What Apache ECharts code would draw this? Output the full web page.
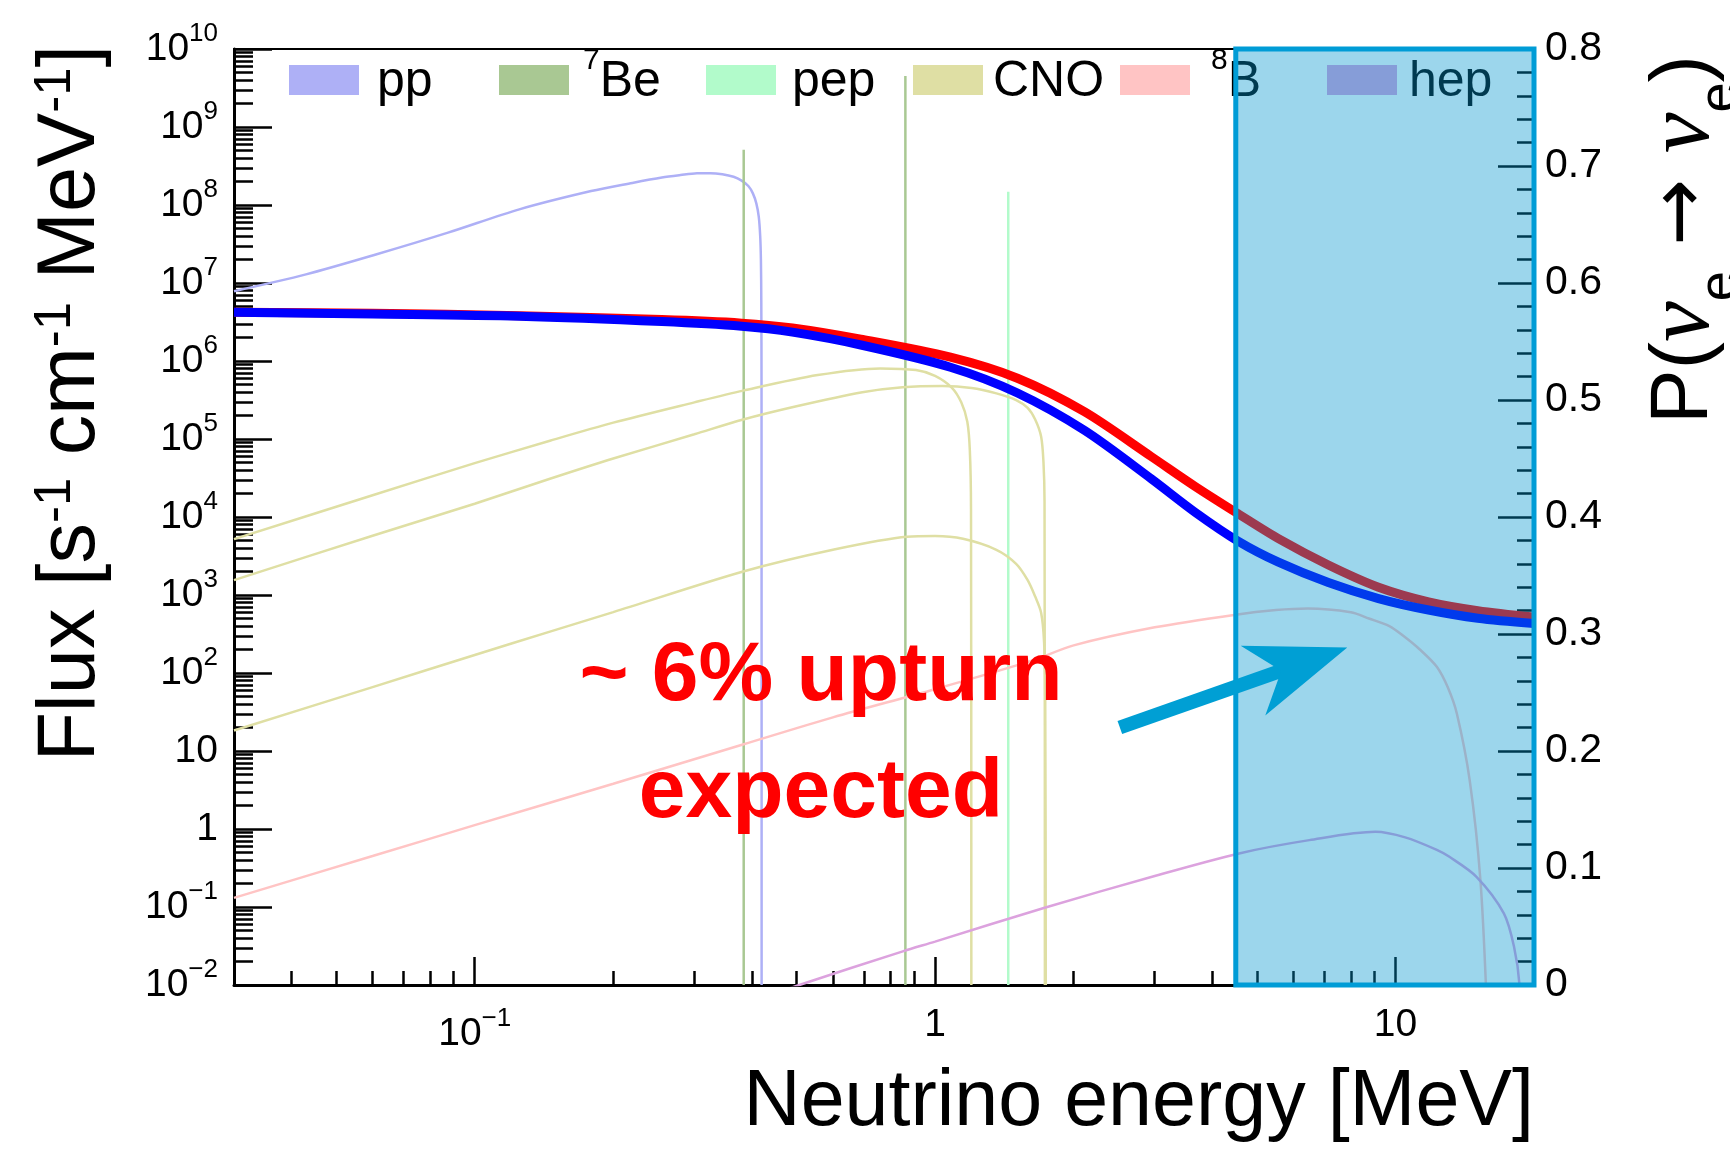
<!DOCTYPE html>
<html>
<head>
<meta charset="utf-8">
<title>Solar neutrino spectrum and electron-neutrino survival probability</title>
<script src="https://cdn.jsdelivr.net/npm/echarts@6/dist/echarts.min.js"></script>
<style>
  html, body { margin: 0; padding: 0; background: #ffffff; }
  #chart { width: 1730px; height: 1151px; }
</style>
</head>
<body>
<div id="chart"></div>
<script>
// ---------------- solar neutrino fluxes [s^-1 cm^-1 MeV^-1] vs energy [MeV] ----------------
const ppEnergy = [0.03, 0.043, 0.061, 0.0875, 0.125, 0.179, 0.22, 0.255, 0.28, 0.304, 0.325, 0.345, 0.365, 0.38, 0.393, 0.402, 0.409, 0.414, 0.417, 0.4185, 0.4193, 0.4198, 0.42];
const ppFlux   = [7.85e6, 1.29e7, 2.32e7, 4.42e7, 8.8e7, 1.51e8, 1.92e8, 2.25e8, 2.42e8, 2.55e8, 2.56e8, 2.48e8, 2.3e8, 2.05e8, 1.75e8, 1.41e8, 1.05e8, 7.1e7, 4e7, 2e7, 6e6, 5e5, 0.01];

// monochromatic lines: 7Be (two branches) and pep
const be7LineEnergy = [0.384, 0.862];
const be7LineFlux   = [5.1e8, 4.5e9];
const pepLineEnergy = [1.442];
const pepLineFlux   = [1.48e8];

// CNO cycle: 13N, 15O, 17F
const n13Energy = [0.03, 0.06, 0.1, 0.1457, 0.2, 0.3, 0.383, 0.556, 0.76, 0.909, 1.0, 1.087, 1.14, 1.175, 1.19, 1.197, 1.199];
const n13Flux   = [5.2e3, 1.9e4, 4.9e4, 9.5e4, 1.62e5, 2.95e5, 4.17e5, 6.6e5, 8.04e5, 7.67e5, 6.46e5, 4.57e5, 2.95e5, 1.66e5, 7.1e4, 1.26e4, 0.01];
const o15Energy = [0.03, 0.06, 0.1, 0.1457, 0.2, 0.3, 0.383, 0.5, 0.695, 0.85, 1.039, 1.2, 1.359, 1.5, 1.589, 1.65, 1.70, 1.72, 1.729, 1.732];
const o15Flux   = [1.55e3, 5.75e3, 1.48e4, 3.09e4, 5.62e4, 1.15e5, 1.78e5, 2.63e5, 3.98e5, 4.62e5, 4.79e5, 4.52e5, 3.85e5, 3.16e5, 2.51e5, 1.78e5, 1.07e5, 5.0e4, 1.58e4, 0.01];
const f17Energy = [0.03, 0.06, 0.1, 0.1457, 0.2, 0.383, 0.6, 0.869, 1.0, 1.15, 1.359, 1.5, 1.589, 1.65, 1.70, 1.725, 1.735, 1.74];
const f17Flux   = [18.3, 66, 170, 339, 603, 2.0e3, 3.8e3, 5.58e3, 5.7e3, 5.25e3, 3.8e3, 2.51e3, 1.55e3, 955, 589, 251, 50, 0.01];

// 8B and hep
const b8Energy = [0.03, 0.06, 0.1, 0.2, 0.384, 0.6, 1.0, 1.63, 2.0, 3.0, 4.5, 5.5, 6.45, 8.0, 8.76, 9.7, 10.4, 11.3, 12.3, 13.0, 13.6, 14.5, 15.3, 15.8];
const b8Flux   = [0.131, 0.45, 1.12, 3.8, 12.2, 27, 62, 145, 226, 385, 560, 640, 670, 600, 500, 400, 300, 200, 120, 65, 30, 4.2, 0.22, 0.005];
const hepEnergy = [0.3, 0.507, 0.851, 1.0, 1.73, 3.0, 4.6, 6.5, 9.05, 10.5, 12.3, 13.1, 15.0, 17.2, 18.1, 18.6, 18.77];
const hepFlux   = [0.0035, 0.01, 0.027, 0.036, 0.098, 0.25, 0.49, 0.72, 0.92, 0.78, 0.54, 0.44, 0.244, 0.083, 0.031, 0.01, 0.001];

// electron-neutrino survival probability P(nu_e -> nu_e)
const peeEnergy = [0.03, 0.06, 0.125, 0.255, 0.38, 0.49, 0.69, 1.08, 1.51, 2.11, 2.95, 3.68, 4.56, 5.57, 7.15, 9.19, 11.8, 15.1, 20];
const peeRed    = [0.575, 0.5742, 0.572, 0.5687, 0.5657, 0.5616, 0.552, 0.5366, 0.5186, 0.490, 0.4516, 0.4259, 0.4026, 0.3815, 0.359, 0.340, 0.3275, 0.320, 0.3145];
const peeBlue   = [0.575, 0.5735, 0.5716, 0.567, 0.563, 0.558, 0.547, 0.528, 0.506, 0.4741, 0.4326, 0.4038, 0.3792, 0.3614, 0.344, 0.3303, 0.3205, 0.3135, 0.309];

// shaded high-energy window [E_lo, E_hi, P_lo, P_hi] and the annotation
const windowBox = [4.5, 20, 0, 0.8];
const arrowPath = [2.52, 20, 7.86, 213];        // tail (E, flux) -> tip (E, flux)
const noteLines = ['~ 6% upturn', 'expected'];
const noteAnchor = [[0.565, 89], [0.565, 2.81]];

// legend entries: name, left edge of swatch, gap before text
const legendNames = ['pp', '7Be', 'pep', 'CNO', '8B', 'hep'];
const legendLeft  = [289, 499, 706, 913, 1120, 1327];
const legendTextGap = [13, 9, 11, 5, 16, 7];

// axis ticks
const xMajorTicks = [0.1, 1, 10];
const yMajorTicks = [];
for (let k = -2; k <= 10; k++) yMajorTicks.push(Number(Math.pow(10, k).toPrecision(6)));
const xMinorTicks = [];
for (const d of [0.01, 0.1, 1]) {
  for (let m = 2; m <= 9; m++) {
    const v = Number((m * d).toPrecision(6));
    if (v > 0.03 && v < 20) xMinorTicks.push(v);
  }
}
const yMinorTicks = [];
for (let k = -2; k <= 9; k++) {
  for (let m = 2; m <= 9; m++) yMinorTicks.push(Number((m * Math.pow(10, k)).toPrecision(6)));
}

// ---------------- styles ----------------
const FONT = '"Liberation Sans", Arial, Helvetica, sans-serif';
const COLORS = {
  pp: '#aeb0f6',
  be7: '#a9c893',
  pep: '#b2fbcb',
  cno: '#dfdfa4',
  b8: '#ffc4c4',
  hep: '#dca2de'
};

function zip(xs, ys) { return xs.map((x, i) => [x, ys[i]]); }

function decadeLabel(v) {
  const k = Math.round(Math.log10(v));
  if (k === 0) return '1';
  if (k === 1) return '10';
  return '10{sup|' + (k < 0 ? '\u2212' + (-k) : String(k)) + '}';
}

function thinLine(name, color, data, smooth) {
  return {
    name: name, type: 'line', data: data, xAxisIndex: 0, yAxisIndex: 0,
    showSymbol: false, symbol: 'none', color: color,
    smooth: smooth ? 0.3 : false,
    itemStyle: { color: color },
    lineStyle: { color: color, width: 2.5 },
    clip: true, z: 2
  };
}

function thickLine(name, color, data) {
  return {
    name: name, type: 'line', data: data, xAxisIndex: 0, yAxisIndex: 1,
    showSymbol: false, symbol: 'none', color: color,
    smooth: 0.3,
    itemStyle: { color: color },
    lineStyle: { color: color, width: 9 },
    clip: true, z: 3
  };
}

const series = [
  thinLine('pp', COLORS.pp, zip(ppEnergy, ppFlux), true),
  ...be7LineEnergy.map((e, i) => thinLine('7Be', COLORS.be7, [[e, 0.01], [e, be7LineFlux[i]]], false)),
  ...pepLineEnergy.map((e, i) => thinLine('pep', COLORS.pep, [[e, 0.01], [e, pepLineFlux[i]]], false)),
  thinLine('CNO', COLORS.cno, zip(n13Energy, n13Flux), true),
  thinLine('CNO', COLORS.cno, zip(o15Energy, o15Flux), true),
  thinLine('CNO', COLORS.cno, zip(f17Energy, f17Flux), true),
  thinLine('8B', COLORS.b8, zip(b8Energy, b8Flux), true),
  thinLine('hep', COLORS.hep, zip(hepEnergy, hepFlux), true),
  thickLine('Pee red', '#ff0000', zip(peeEnergy, peeRed)),
  thickLine('Pee blue', '#0000ff', zip(peeEnergy, peeBlue)),
  {
    name: 'window', type: 'custom', xAxisIndex: 0, yAxisIndex: 1,
    data: [windowBox], encode: { x: [0, 1], y: [2, 3] }, z: 10, clip: false,
    renderItem: function (params, api) {
      const a = api.coord([api.value(0), api.value(3)]);
      const b = api.coord([api.value(1), api.value(2)]);
      return {
        type: 'rect',
        shape: { x: a[0], y: a[1], width: b[0] - a[0], height: b[1] - a[1] },
        style: { fill: 'rgba(0,150,205,0.39)', stroke: '#009cd6', lineWidth: 5 }
      };
    }
  },
  {
    name: 'arrow', type: 'custom', xAxisIndex: 0, yAxisIndex: 0,
    data: [arrowPath], encode: { x: [0, 2], y: [1, 3] }, z: 12, clip: false,
    renderItem: function (params, api) {
      const t = api.coord([api.value(0), api.value(1)]);
      const p = api.coord([api.value(2), api.value(3)]);
      const dx = p[0] - t[0], dy = p[1] - t[1];
      const len = Math.sqrt(dx * dx + dy * dy);
      const ux = dx / len, uy = dy / len, nx = -uy, ny = ux;
      const headLen = 100, halfW = 37, notch = 70;
      const base = [p[0] - headLen * ux, p[1] - headLen * uy];
      const nb = [p[0] - notch * ux, p[1] - notch * uy];
      return {
        type: 'group',
        children: [
          { type: 'line', shape: { x1: t[0], y1: t[1], x2: nb[0] + 4 * ux, y2: nb[1] + 4 * uy },
            style: { stroke: '#009fd4', lineWidth: 14 } },
          { type: 'polygon',
            shape: { points: [p, [base[0] + halfW * nx, base[1] + halfW * ny], nb, [base[0] - halfW * nx, base[1] - halfW * ny]] },
            style: { fill: '#009fd4' } }
        ]
      };
    }
  },
  {
    name: 'note', type: 'custom', xAxisIndex: 0, yAxisIndex: 0,
    data: noteAnchor, z: 14, clip: false,
    renderItem: function (params, api) {
      const c = api.coord([api.value(0), api.value(1)]);
      return {
        type: 'text', x: c[0], y: c[1],
        style: {
          text: noteLines[params.dataIndex], fill: '#ff0000',
          fontSize: 84, fontWeight: 'bold', fontFamily: FONT,
          align: 'center', verticalAlign: 'middle',
          textAlign: 'center', textVerticalAlign: 'middle'
        }
      };
    }
  }
];

// every legend entry gets the same line box so the swatches line up
const legends = legendNames.map((name, i) => ({
  data: [name],
  left: legendLeft[i], top: 40, padding: 0, itemGap: 0,
  orient: 'horizontal', icon: 'rect', itemWidth: 70, itemHeight: 30,
  selectedMode: false, z: 4,
  itemStyle: { borderWidth: 0 },
  formatter: function (n) {
    if (n === '7Be') return '{sup|7}{b|Be}';
    if (n === '8B') return '{sup|8}{b|B}';
    return '{b|' + n + '}';
  },
  textStyle: {
    fontSize: 50, fontFamily: FONT, color: '#000', lineHeight: 80,
    padding: [0, 0, 0, legendTextGap[i]],
    rich: {
      b: { fontSize: 50, fontFamily: FONT, color: '#000', lineHeight: 80, padding: [4, 0, 0, 0] },
      sup: { fontSize: 30, fontFamily: FONT, color: '#000', lineHeight: 30, padding: [0, 0, 38, 0] }
    }
  }
}));

const tickLine = { color: '#000', width: 2.5 };

const option = {
  animation: false,
  backgroundColor: '#ffffff',
  textStyle: { fontFamily: FONT },
  grid: {
    left: 234, right: 196, top: 49, bottom: 166,
    show: true, borderColor: '#000', borderWidth: 2, backgroundColor: 'transparent'
  },
  legend: legends,
  xAxis: [
    {
      type: 'log', logBase: 10, min: 0.03, max: 20, gridIndex: 0, position: 'bottom',
      axisLine: { show: true, onZero: false, lineStyle: { color: '#000', width: 3 } },
      axisTick: { show: true, inside: true, length: 28, lineStyle: tickLine, customValues: xMajorTicks },
      minorTick: { show: false },
      splitLine: { show: false },
      axisLabel: {
        customValues: xMajorTicks, formatter: decadeLabel, margin: 21,
        fontSize: 39, fontFamily: FONT, color: '#000',
        rich: { sup: { fontSize: 26, fontFamily: FONT, color: '#000', padding: [0, 0, 30, 0] } }
      }
    },
    {
      type: 'log', logBase: 10, min: 0.03, max: 20, gridIndex: 0, position: 'bottom',
      axisLine: { show: false, onZero: false },
      axisTick: { show: true, inside: true, length: 14, lineStyle: tickLine, customValues: xMinorTicks },
      axisLabel: { show: false },
      splitLine: { show: false }
    }
  ],
  yAxis: [
    {
      type: 'log', logBase: 10, min: 0.01, max: 1e10, gridIndex: 0, position: 'left',
      axisLine: { show: true, onZero: false, lineStyle: { color: '#000', width: 3 } },
      axisTick: { show: true, inside: true, length: 38, lineStyle: tickLine, customValues: yMajorTicks },
      minorTick: { show: false },
      splitLine: { show: false },
      axisLabel: {
        customValues: yMajorTicks, formatter: decadeLabel, margin: 16,
        fontSize: 39, fontFamily: FONT, color: '#000',
        rich: { sup: { fontSize: 26, fontFamily: FONT, color: '#000', padding: [0, 0, 30, 0] } }
      }
    },
    {
      type: 'value', min: 0, max: 0.8, interval: 0.1, gridIndex: 0, position: 'right',
      axisLine: { show: true, onZero: false, lineStyle: { color: '#000', width: 3 } },
      axisTick: { show: true, inside: true, length: 36, lineStyle: tickLine },
      minorTick: { show: true, splitNumber: 5, length: 17, lineStyle: tickLine },
      splitLine: { show: false },
      minorSplitLine: { show: false },
      axisLabel: { margin: 11, fontSize: 41, fontFamily: FONT, color: '#000' }
    },
    {
      type: 'log', logBase: 10, min: 0.01, max: 1e10, gridIndex: 0, position: 'left',
      axisLine: { show: false, onZero: false },
      axisTick: { show: true, inside: true, length: 19, lineStyle: tickLine, customValues: yMinorTicks },
      axisLabel: { show: false },
      splitLine: { show: false }
    }
  ],
  graphic: [
    {
      type: 'text', x: 1534, y: 1103, z: 20,
      style: {
        text: 'Neutrino energy [MeV]', fill: '#000', fontSize: 79, fontFamily: FONT,
        align: 'right', verticalAlign: 'middle', textAlign: 'right', textVerticalAlign: 'middle'
      }
    },
    {
      type: 'text', x: 72, y: 45, rotation: Math.PI / 2, z: 20,
      style: {
        text: 'Flux [s{sup|-1} cm{sup|-1} MeV{sup|-1}]', fill: '#000', fontSize: 81, fontFamily: FONT,
        align: 'right', verticalAlign: 'middle', textAlign: 'right', textVerticalAlign: 'middle',
        rich: { sup: { fontSize: 51, fontFamily: FONT, fill: '#000', padding: [0, 0, 33, 0] } }
      }
    },
    {
      type: 'text', x: 1684, y: 424, rotation: Math.PI / 2, z: 20,
      style: {
        text: 'P({nu|\u03bd}{sub|e}{arr| \u2192 }{nu|\u03bd}{sub|e})', fill: '#000', fontSize: 82, fontFamily: FONT,
        align: 'left', verticalAlign: 'middle', textAlign: 'left', textVerticalAlign: 'middle',
        rich: {
          nu: { fontSize: 92, fontFamily: '"Liberation Serif", "DejaVu Serif", serif', fontStyle: 'italic', fill: '#000' },
          sub: { fontSize: 54, fontFamily: FONT, fill: '#000', padding: [75, 0, 0, 0] },
          arr: { fontSize: 80, fontFamily: '"DejaVu Sans", sans-serif', fill: '#000' }
        }
      }
    }
  ],
  series: series
};

const chart = echarts.init(document.getElementById('chart'), null, { renderer: 'canvas' });
chart.setOption(option);
</script>
</body>
</html>
